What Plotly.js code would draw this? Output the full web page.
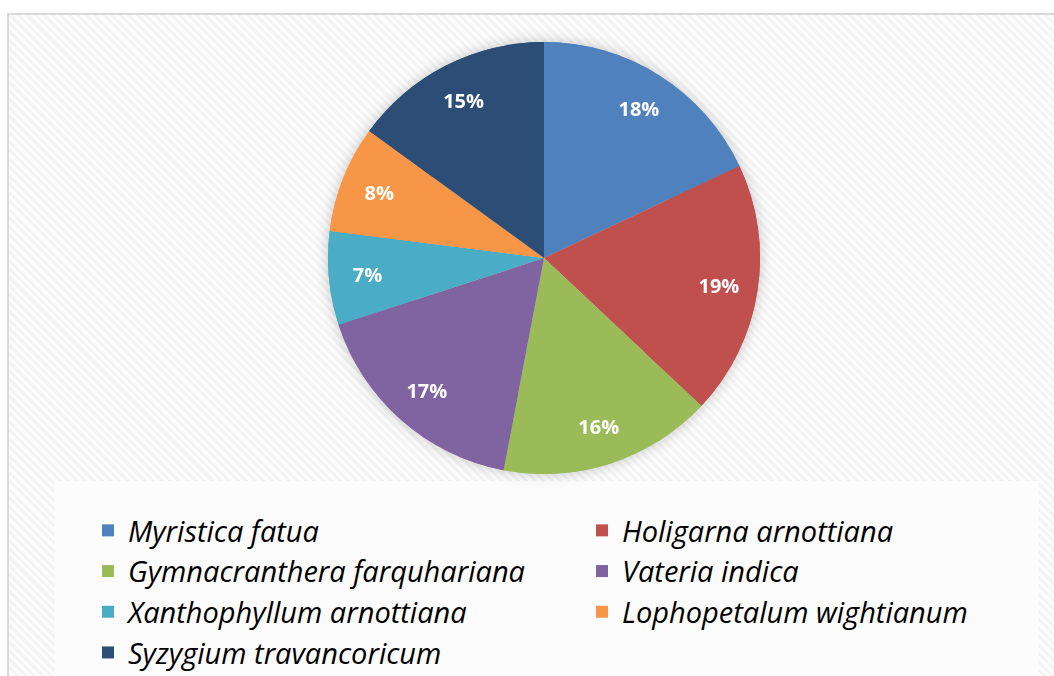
<!DOCTYPE html>
<html>
<head>
<meta charset="utf-8">
<script src="https://cdn.plot.ly/plotly-3.0.1.min.js"></script>
<style>
  html, body { margin: 0; padding: 0; background: #ffffff; }
  #wrap { position: relative; width: 1054px; height: 676px; overflow: hidden; background: #ffffff; }
  #frame { position: absolute; left: 7px; top: 13px; width: 1060px; height: 680px;
           border-left: 2px solid #d9d9d9; border-top: 2px solid #d9d9d9;
           background: repeating-linear-gradient(45deg, #f4f4f4 0px, #f4f4f4 3px, #fdfdfd 3px, #fdfdfd 6px); }
  #chart { position: absolute; left: 0; top: 0; width: 1054px; height: 676px; }
  .pielayer { filter: drop-shadow(0px 0px 7px rgba(0,0,0,0.22)); }
</style>
</head>
<body>
<div id="wrap">
  <div id="frame"></div>
  <div id="chart"></div>
</div>
<script>
const species = [
  "Myristica fatua",
  "Holigarna arnottiana",
  "Gymnacranthera farquhariana",
  "Vateria indica",
  "Xanthophyllum arnottiana",
  "Lophopetalum wightianum",
  "Syzygium travancoricum"
];
const shares = [18, 19, 16, 17, 7, 8, 15];
const sliceColors = ["#4F81BD", "#C0504D", "#9BBB59", "#8064A2", "#4BACC6", "#F79646", "#2C4D75"];

const W = 1054, H = 676;
const cx = 544, cy = 258, r = 216;
const pieDomain = {
  x: [(cx - r) / W, (cx + r) / W],
  y: [(H - cy - r) / H, (H - cy + r) / H]
};

// full pie (fills the centre), no text
const basePie = {
  type: "pie",
  labels: species,
  values: shares,
  sort: false,
  direction: "clockwise",
  rotation: 0,
  marker: { colors: sliceColors, line: { width: 0 } },
  textinfo: "none",
  hoverinfo: "skip",
  showlegend: true,
  domain: pieDomain
};

// ring on top carrying the percentage labels near the rim
const labelRing = {
  type: "pie",
  labels: species,
  values: shares,
  sort: false,
  direction: "clockwise",
  rotation: 0,
  hole: 0.64,
  marker: { colors: sliceColors, line: { width: 0 } },
  textinfo: "percent",
  textposition: "inside",
  insidetextorientation: "horizontal",
  insidetextfont: { family: "Open Sans, Liberation Sans, sans-serif", size: 20, color: "#ffffff", weight: "bold" },
  hoverinfo: "label+percent",
  showlegend: false,
  domain: pieDomain
};

const layout = {
  width: W, height: H,
  margin: { l: 0, r: 0, t: 0, b: 0, autoexpand: false },
  paper_bgcolor: "rgba(0,0,0,0)",
  plot_bgcolor: "rgba(0,0,0,0)",
  showlegend: true,
  legend: {
    orientation: "h",
    x: 88 / W, xanchor: "left",
    y: (H - 505) / H, yanchor: "top",
    entrywidth: 449,
    entrywidthmode: "pixels",
    bgcolor: "rgba(0,0,0,0)",
    font: { family: "Open Sans, Liberation Sans, sans-serif", size: 29, color: "#000000", style: "italic" },
    traceorder: "normal"
  },
  shapes: [{
    type: "rect", xref: "paper", yref: "paper",
    x0: 55 / W, x1: 1039 / W, y0: 0, y1: (H - 481) / H,
    fillcolor: "#fcfcfc", line: { width: 0 }, layer: "below"
  }]
};

Plotly.newPlot("chart", [basePie, labelRing], layout, { displayModeBar: false, staticPlot: true });
</script>
</body>
</html>
